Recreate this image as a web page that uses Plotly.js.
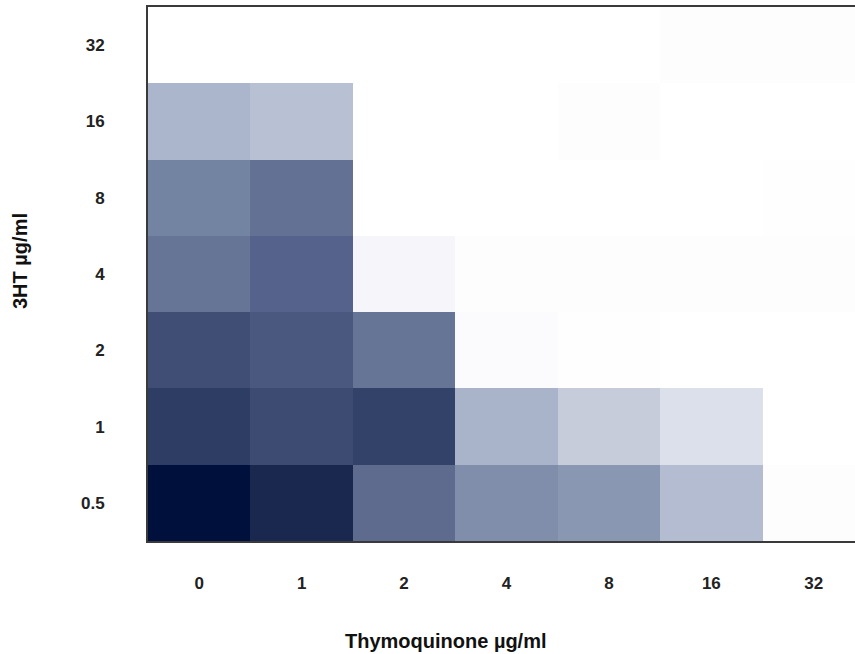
<!DOCTYPE html>
<html>
<head>
<meta charset="utf-8">
<script src="https://cdn.plot.ly/plotly-3.0.1.min.js"></script>
<style>
html,body{margin:0;padding:0;overflow:hidden;background:#fff;}
#chart{width:865px;height:654px;}
</style>
</head>
<body>
<div id="chart"></div>
<script>
// Thymoquinone concentrations (x) and 3HT concentrations (y)
const thymoquinone = ['0', '1', '2', '4', '8', '16', '32'];
const hydroxytyrosol = ['0.5', '1', '2', '4', '8', '16', '32'];

// Relative growth (%) per 3HT row, estimated from shading
const row_0_5 = [100, 90, 63, 50, 46, 30, 1];
const row_1   = [82, 76, 80, 34, 22, 14, 0];
const row_2   = [75, 71, 60, 1.5, 0.5, 0, 0];
const row_4   = [60, 67, 4, 1, 1, 0.8, 0.8];
const row_8   = [55, 61, 0, 0, 0, 0, 0.6];
const row_16  = [33, 28, 0, 0, 1, 0, 0];
const row_32  = [0, 0, 0, 0, 0, 1, 1];

const z = [row_0_5, row_1, row_2, row_4, row_8, row_16, row_32];

const colorscale = [
  [0, '#ffffff'],
  [0.04, '#f5f5fa'],
  [0.14, '#dbe0ea'],
  [0.22, '#c6ccda'],
  [0.30, '#b3bcd0'],
  [0.46, '#8a97b3'],
  [0.55, '#7383a2'],
  [0.635, '#5d6a8e'],
  [0.67, '#55628b'],
  [0.76, '#3d4b73'],
  [0.82, '#2e3d63'],
  [0.90, '#1a2850'],
  [1, '#00103c']
];

const trace = {
  type: 'heatmap',
  x: thymoquinone,
  y: hydroxytyrosol,
  z: z,
  zmin: 0,
  zmax: 100,
  colorscale: colorscale,
  showscale: false,
  xgap: 0,
  ygap: 0,
  hoverongaps: false
};

const tickFont = {family: 'Liberation Sans, Arial, sans-serif', size: 17, color: '#222', weight: 'bold'};

const layout = {
  width: 865,
  height: 654,
  margin: {l: 148, r: 0, t: 7, b: 113},
  paper_bgcolor: '#ffffff',
  plot_bgcolor: '#ffffff',
  xaxis: {
    type: 'category',
    showline: true,
    linecolor: '#3a3a3a',
    linewidth: 2,
    mirror: true,
    showgrid: false,
    zeroline: false,
    ticks: '',
    ticklabelstandoff: 26,
    tickfont: tickFont
  },
  yaxis: {
    type: 'category',
    showline: true,
    linecolor: '#3a3a3a',
    linewidth: 2,
    mirror: true,
    showgrid: false,
    zeroline: false,
    ticks: '',
    ticklabelstandoff: 38,
    tickfont: tickFont
  },
  annotations: [
    {
      text: 'Thymoquinone µg/ml',
      xref: 'paper', yref: 'paper',
      x: (446 - 148) / 717, y: -(641 - 541) / 534,
      xanchor: 'center', yanchor: 'middle',
      showarrow: false,
      font: {family: 'Liberation Sans, Arial, sans-serif', size: 20, color: '#111', weight: 'bold'}
    },
    {
      text: '3HT µg/ml',
      xref: 'paper', yref: 'paper',
      x: -(148 - 20) / 717, y: (541 - 261) / 534,
      xanchor: 'center', yanchor: 'middle',
      textangle: -90,
      showarrow: false,
      font: {family: 'Liberation Sans, Arial, sans-serif', size: 20, color: '#111', weight: 'bold'}
    }
  ]
};

Plotly.newPlot('chart', [trace], layout, {displayModeBar: false, staticPlot: true});
</script>
</body>
</html>
